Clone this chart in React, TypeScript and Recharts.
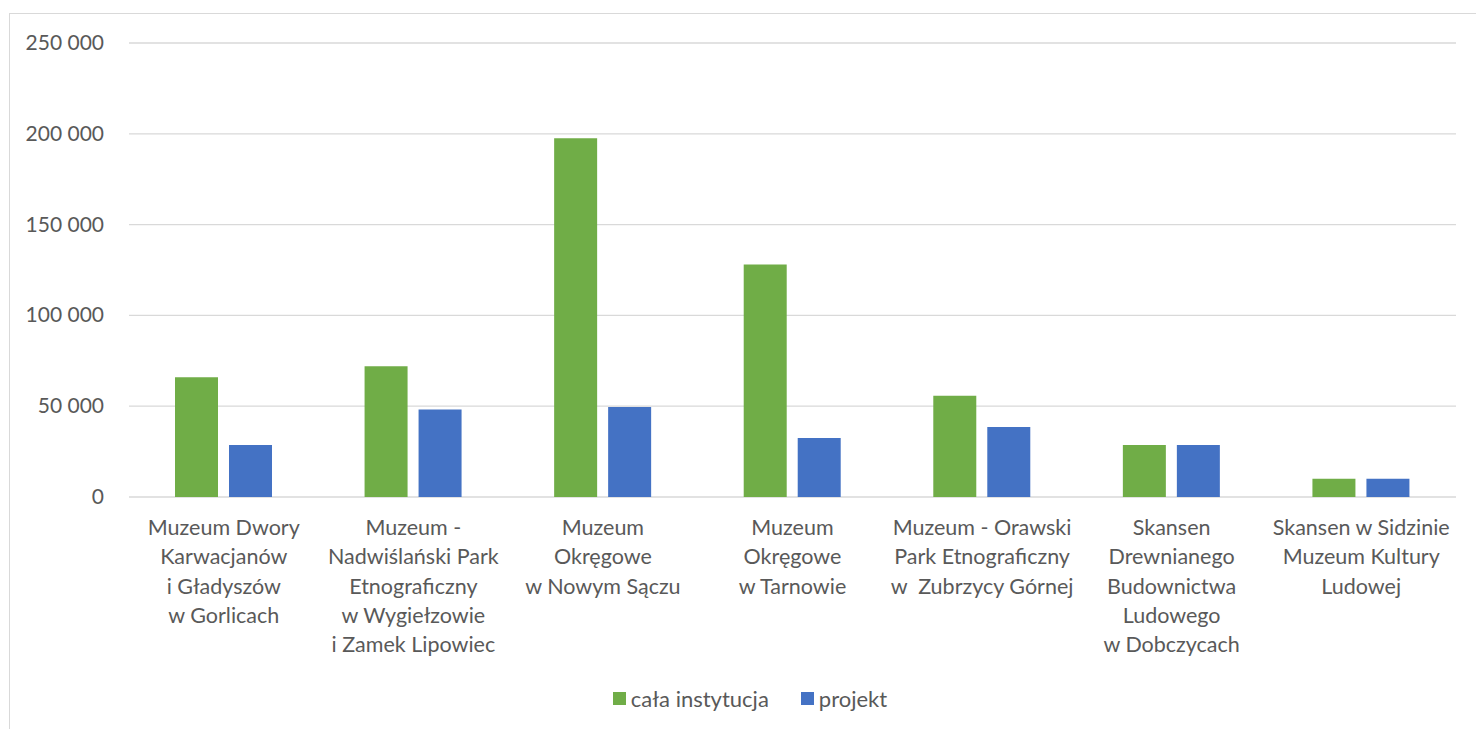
import { BarChart, Bar, XAxis, YAxis, CartesianGrid, Legend } from "recharts";

const categories = [
  "Muzeum Dwory\nKarwacjanów\ni Gładyszów\nw Gorlicach",
  "Muzeum -\nNadwiślański Park\nEtnograficzny\nw Wygiełzowie\ni Zamek Lipowiec",
  "Muzeum\nOkręgowe\nw Nowym Sączu",
  "Muzeum\nOkręgowe\nw Tarnowie",
  "Muzeum - Orawski\nPark Etnograficzny\nw  Zubrzycy Górnej",
  "Skansen\nDrewnianego\nBudownictwa\nLudowego\nw Dobczycach",
  "Skansen w Sidzinie\nMuzeum Kultury\nLudowej",
];
const calaInstytucja = [66000, 72000, 197500, 128000, 55800, 28700, 10000];
const projekt = [28700, 48200, 49600, 32500, 38600, 28700, 10000];
const yTicks = [0, 50000, 100000, 150000, 200000, 250000];

const FONT = "Lato, 'Open Sans', sans-serif";
const TEXT = "#595959";
const GREEN = "#70AD47";
const BLUE = "#4472C4";

const data = categories.map((name, i) => ({
  name,
  "cała instytucja": calaInstytucja[i],
  projekt: projekt[i],
}));

const fmt = (v: number) => (v === 0 ? "0" : v.toLocaleString("en-US").replace(/,/g, " "));

// eslint-disable-next-line @typescript-eslint/no-explicit-any
function CategoryTick({ x, y, payload }: any) {
  const lines = String(payload.value).split("\n");
  return (
    <text x={x} y={y + 30} textAnchor="middle" fill={TEXT} fontSize={21.5} fontFamily={FONT}>
      {lines.map((l, i) => (
        <tspan key={i} x={x} dy={i === 0 ? 0 : 29.3} style={{ whiteSpace: "pre" }}>
          {l}
        </tspan>
      ))}
    </text>
  );
}

// eslint-disable-next-line @typescript-eslint/no-explicit-any
function ValueTick({ x, y, payload }: any) {
  return (
    <text x={x - 17} y={y + 7} textAnchor="end" fill={TEXT} fontSize={21} fontFamily={FONT}>
      {fmt(payload.value)}
    </text>
  );
}

function LegendContent() {
  const items = [
    { label: "cała instytucja", color: GREEN },
    { label: "projekt", color: BLUE },
  ];
  return (
    <div
      style={{
        display: "flex",
        justifyContent: "center",
        gap: 32,
        paddingTop: 13,
        paddingLeft: 34,
        fontFamily: FONT,
        fontSize: 22,
        color: TEXT,
      }}
    >
      {items.map((it) => (
        <div key={it.label} style={{ display: "flex", alignItems: "center", gap: 5 }}>
          <span style={{ width: 13, height: 13, background: it.color, display: "inline-block" }} />
          <span>{it.label}</span>
        </div>
      ))}
    </div>
  );
}

export default function App() {
  return (
    <div
      style={{
        position: "absolute",
        left: 9,
        top: 13,
        width: 1467,
        height: 730,
        borderTop: "1px solid #d9d9d9",
        borderLeft: "1px solid #d9d9d9",
        background: "#fff",
        overflow: "hidden",
      }}
    >
      <BarChart
        width={1466}
        height={730}
        data={data}
        margin={{ top: 29, right: 20, left: 0, bottom: 22 }}
        barSize={43}
        barGap={11}
      >
        <CartesianGrid vertical={false} stroke="#d9d9d9" strokeWidth={1.3} />
        <XAxis
          dataKey="name"
          interval={0}
          axisLine={false}
          tickLine={false}
          height={175}
          tick={<CategoryTick />}
        />
        <YAxis
          domain={[0, 250000]}
          ticks={yTicks}
          axisLine={false}
          tickLine={false}
          width={119}
          tick={<ValueTick />}
        />
        <Legend verticalAlign="bottom" height={50} content={<LegendContent />} />
        <Bar dataKey="cała instytucja" fill={GREEN} isAnimationActive={false} />
        <Bar dataKey="projekt" fill={BLUE} isAnimationActive={false} />
      </BarChart>
    </div>
  );
}
